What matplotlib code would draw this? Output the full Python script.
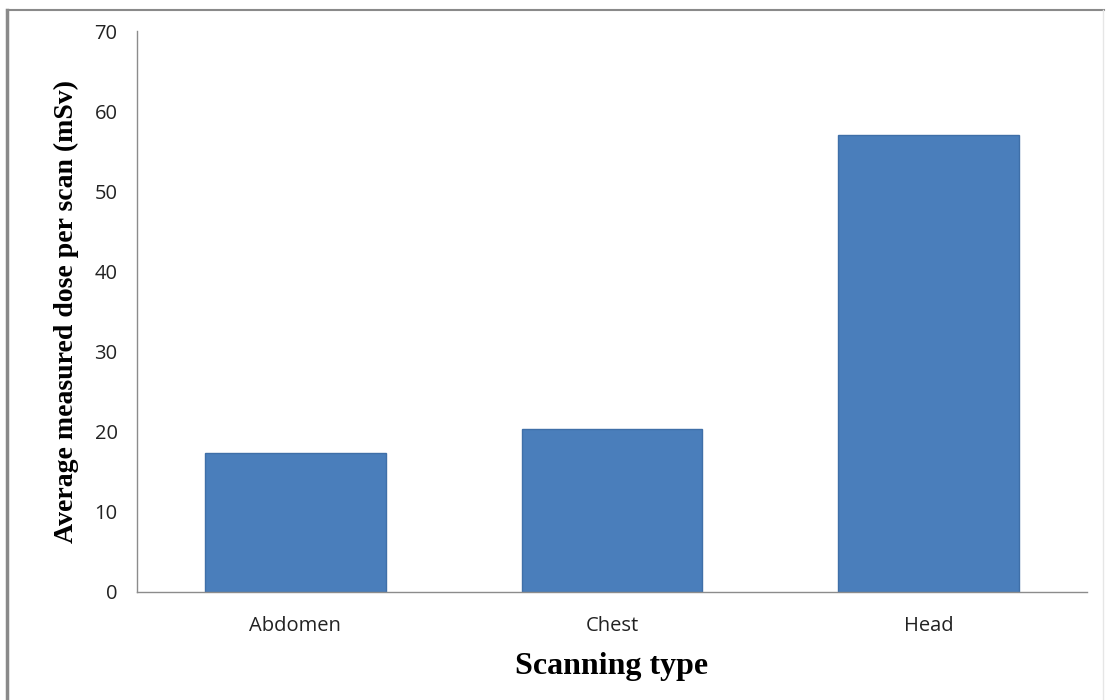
import numpy as np
from matplotlib import pyplot as plt
from matplotlib.lines import Line2D

categories = ['Abdomen', 'Chest', 'Head']
dose = [17.4, 20.4, 57.0]
yticks = [0, 10, 20, 30, 40, 50, 60, 70]

fig = plt.figure(figsize=(11.07, 7), dpi=100)
ax = fig.add_axes([0.1238, 0.1543, 0.8582, 0.8014])

x = np.arange(len(categories))
ax.bar(x, dose, width=0.57, color='#4a7ebb', edgecolor='#3f6fa8', linewidth=1.0)

ax.set_xlim(-0.5, len(categories) - 0.5)
ax.set_ylim(0, 70)
ax.set_yticks(yticks)
ax.set_xticks(x)
ax.set_xticklabels(categories)
ax.tick_params(length=0, labelsize=14.5, colors='#222222')
ax.tick_params(axis='x', pad=17)
ax.tick_params(axis='y', pad=14)
for lab in ax.get_xticklabels() + ax.get_yticklabels():
    lab.set_family('Open Sans')

for side in ['top', 'right']:
    ax.spines[side].set_visible(False)
for side in ['left', 'bottom']:
    ax.spines[side].set_color('#8c8c8c')
    ax.spines[side].set_linewidth(1.0)

ax.set_ylabel('Average measured dose per scan (mSv)', family='Liberation Serif',
              fontweight='bold', fontsize=20, labelpad=11)
ax.set_xlabel('Scanning type', family='Liberation Serif', fontweight='bold',
              fontsize=23, labelpad=12)

# outer frame
fig.add_artist(Line2D([0.0065, 0.0065], [0.0, 0.986], color='#8a8a8a', lw=2.5))
fig.add_artist(Line2D([0.0065, 0.997], [0.986, 0.986], color='#8a8a8a', lw=1.5))
fig.add_artist(Line2D([0.996, 0.996], [0.0, 0.986], color='#e6e6e6', lw=1.0))

fig.savefig('out.png', dpi=100)
